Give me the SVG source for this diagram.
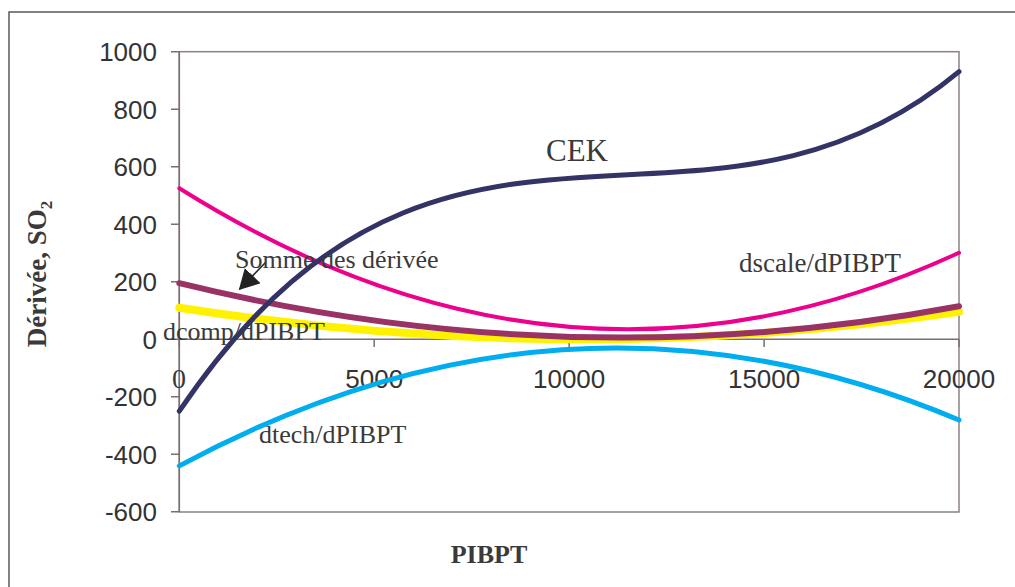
<svg xmlns="http://www.w3.org/2000/svg" width="1015" height="587" viewBox="0 0 1015 587">
<style>
.tick{font-family:"Liberation Sans",Arial,sans-serif;font-size:26px;fill:#333}
.ser{font-family:"Liberation Serif","Times New Roman",serif;fill:#3a3a3a}
.lbl{font-size:26px}
.curve{fill:none;stroke-linecap:round;stroke-linejoin:round}
.ax{stroke:#7a6f6f;stroke-width:1.5;fill:none}
</style>
<defs>
<marker id="ah" viewBox="0 0 20 22" refX="19" refY="11" markerWidth="20" markerHeight="22" markerUnits="userSpaceOnUse" orient="auto">
<path d="M0,0 L20,11 L0,22 Z" fill="#222"/>
</marker>
</defs>
<rect width="1015" height="587" fill="#fff"/>
<rect x="9" y="12" width="1100" height="700" fill="none" stroke="#5a5a5a" stroke-width="1.5"/>
<g id="plot-area">
<rect x="179.3" y="51.7" width="779.7" height="460.3" fill="none" stroke="#8c8282" stroke-width="1.5"/>
<path class="ax" d="M179.3,51.7 V512 M171,51.7 H179.3 M171,109.2 H179.3 M171,166.8 H179.3 M171,224.3 H179.3 M171,281.8 H179.3 M171,339.3 H179.3 M171,396.8 H179.3 M171,454.3 H179.3 M171,511.8 H179.3"/>
<path class="ax" d="M179.3,339.3 H959 M179.3,339.3 V347 M374.2,339.3 V347 M569.15,339.3 V347 M764.1,339.3 V347 M959,339.3 V347"/>
</g>
<g id="y-ticks" class="tick" text-anchor="end">
<text x="157" y="61">1000</text>
<text x="157" y="118.5">800</text>
<text x="157" y="176">600</text>
<text x="157" y="233.5">400</text>
<text x="157" y="291">200</text>
<text x="157" y="348.6">0</text>
<text x="157" y="406">-200</text>
<text x="157" y="463.5">-400</text>
<text x="157" y="521">-600</text>
</g>
<g id="x-ticks" class="tick" text-anchor="middle">
<text class="ser" x="179" y="388" style="font-size:28px">0</text>
<text x="374.2" y="388">5000</text>
<text x="569.15" y="388">10000</text>
<text x="764.1" y="388">15000</text>
<text x="959" y="388">20000</text>
</g>
<g id="connectors">
<path id="dcomp" class="curve" stroke="#fff200" stroke-width="8" d="M179.3,307.7 Q569.15,368.8 959,311.9"/>
<path id="somme" class="curve" stroke="#993366" stroke-width="6" d="M179.3,283.2 Q569.15,378.9 959,306.2"/>
<path id="dscale" class="curve" stroke="#ec008c" stroke-width="4" d="M179.3,188.3 Q569.15,433.0 959,252.8"/>
<path id="dtech" class="curve" stroke="#00aeef" stroke-width="5" d="M179.3,465.9 Q569.15,255.7 959,420.0"/>
<path id="cek" class="curve" stroke="#333366" stroke-width="5" d="M179.3,411.2 C439.2,26.1 699.1,288.0 959,71.7"/>
<path id="arrow" fill="none" stroke="#222" stroke-width="1.5" d="M266,262 L239.5,289.3" marker-end="url(#ah)"/>
</g>
<g id="labels" class="ser">
<text id="lbl-cek" x="546" y="161" style="font-size:31px">CEK</text>
<text id="lbl-somme" class="lbl" x="235" y="268">Somme des dérivée</text>
<text id="lbl-dscale" x="739" y="272" style="font-size:27px">dscale/dPIBPT</text>
<text id="lbl-dcomp" class="lbl" x="163" y="340">dcomp/dPIBPT</text>
<text id="lbl-dtech" class="lbl" x="259" y="443">dtech/dPIBPT</text>
</g>
<g id="axis-titles" class="ser" font-weight="bold">
<text x="489" y="563" text-anchor="middle" style="font-size:26px">PIBPT</text>
<text transform="translate(46,274) rotate(-90)" text-anchor="middle" style="font-size:27px">Dérivée, SO<tspan dy="6" style="font-size:17px">2</tspan></text>
</g>
</svg>
